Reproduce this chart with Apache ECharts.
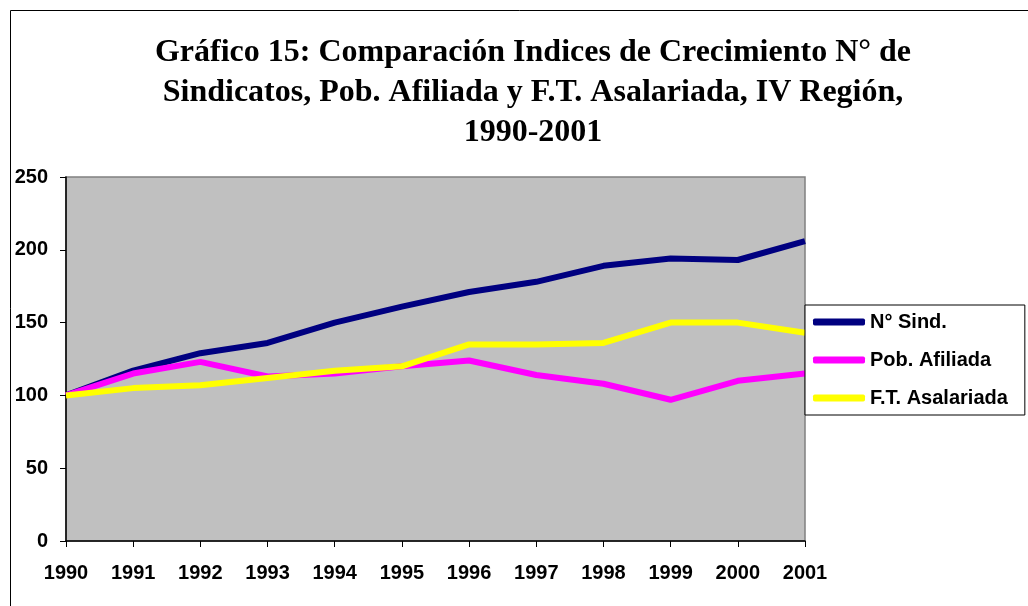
<!DOCTYPE html>
<html>
<head>
<meta charset="utf-8">
<script src="https://cdn.jsdelivr.net/npm/echarts@6/dist/echarts.min.js"></script>
<style>
  html, body { margin: 0; padding: 0; background: #fff; }
  #chart { width: 1028px; height: 606px; }
</style>
</head>
<body>
<div id="chart"></div>
<script>
// años
const years = ['1990', '1991', '1992', '1993', '1994', '1995', '1996', '1997', '1998', '1999', '2000', '2001'];
// índices (1990 = 100)
const nSind = [100, 117, 129, 136, 150, 161, 171, 178, 189, 194, 193, 206];
const pobAfiliada = [100, 115, 123, 113, 115, 120, 124, 114, 108, 97, 110, 115];
const ftAsalariada = [100, 105, 107, 112, 117, 120, 135, 135, 136, 150, 150, 143];

const chart = echarts.init(document.getElementById('chart'));

const lineSeries = (name, data, color) => ({
  name: name,
  type: 'line',
  data: data,
  symbol: 'none',
  lineStyle: { color: color, width: 6 },
  itemStyle: { color: color },
  emphasis: { disabled: true }
});

const boldArial = {
  fontFamily: 'Liberation Sans',
  fontWeight: 'bold',
  fontSize: 20,
  color: '#000'
};

chart.setOption({
  animation: false,
  backgroundColor: '#fff',
  title: {
    text: 'Gráfico 15: Comparación Indices de Crecimiento N° de\nSindicatos, Pob. Afiliada y F.T. Asalariada, IV Región,\n1990-2001',
    left: 528,
    top: 28,
    textAlign: 'center',
    textStyle: {
      fontFamily: 'Liberation Serif',
      fontWeight: 'bold',
      fontSize: 32,
      lineHeight: 40,
      color: '#000'
    }
  },
  legend: {
    orient: 'vertical',
    left: 805,
    top: 305,
    padding: [7, 17, 7, 8],
    itemGap: 18,
    itemWidth: 52,
    itemHeight: 7,
    icon: 'roundRect',
    backgroundColor: '#fff',
    borderColor: '#000',
    borderWidth: 1,
    borderRadius: 0,
    textStyle: Object.assign({ lineHeight: 20 }, boldArial),
    data: ['N° Sind.', 'Pob. Afiliada', 'F.T. Asalariada']
  },
  graphic: [{
    type: 'rect',
    shape: { x: 10.5, y: 10.5, width: 1030, height: 610 },
    style: { fill: 'none', stroke: '#000', lineWidth: 1 },
    silent: true
  }],
  grid: {
    left: 66,
    right: 223,
    top: 177,
    bottom: 65,
    show: true,
    backgroundColor: '#c0c0c0',
    borderColor: '#808080',
    borderWidth: 1.5
  },
  xAxis: {
    type: 'category',
    data: years,
    boundaryGap: false,
    axisLine: { lineStyle: { color: '#000', width: 1.5 } },
    axisTick: { show: true, length: 6, inside: false, lineStyle: { color: '#000' } },
    axisLabel: Object.assign({ margin: 22 }, boldArial),
    splitLine: { show: false }
  },
  yAxis: {
    type: 'value',
    min: 0,
    max: 250,
    interval: 50,
    axisLine: { show: true, lineStyle: { color: '#000', width: 1.5 } },
    axisTick: { show: true, length: 6, lineStyle: { color: '#000' } },
    axisLabel: Object.assign({ margin: 18 }, boldArial),
    splitLine: { show: false }
  },
  series: [
    lineSeries('N° Sind.', nSind, '#000080'),
    lineSeries('Pob. Afiliada', pobAfiliada, '#ff00ff'),
    lineSeries('F.T. Asalariada', ftAsalariada, '#ffff00')
  ]
});
</script>
</body>
</html>
